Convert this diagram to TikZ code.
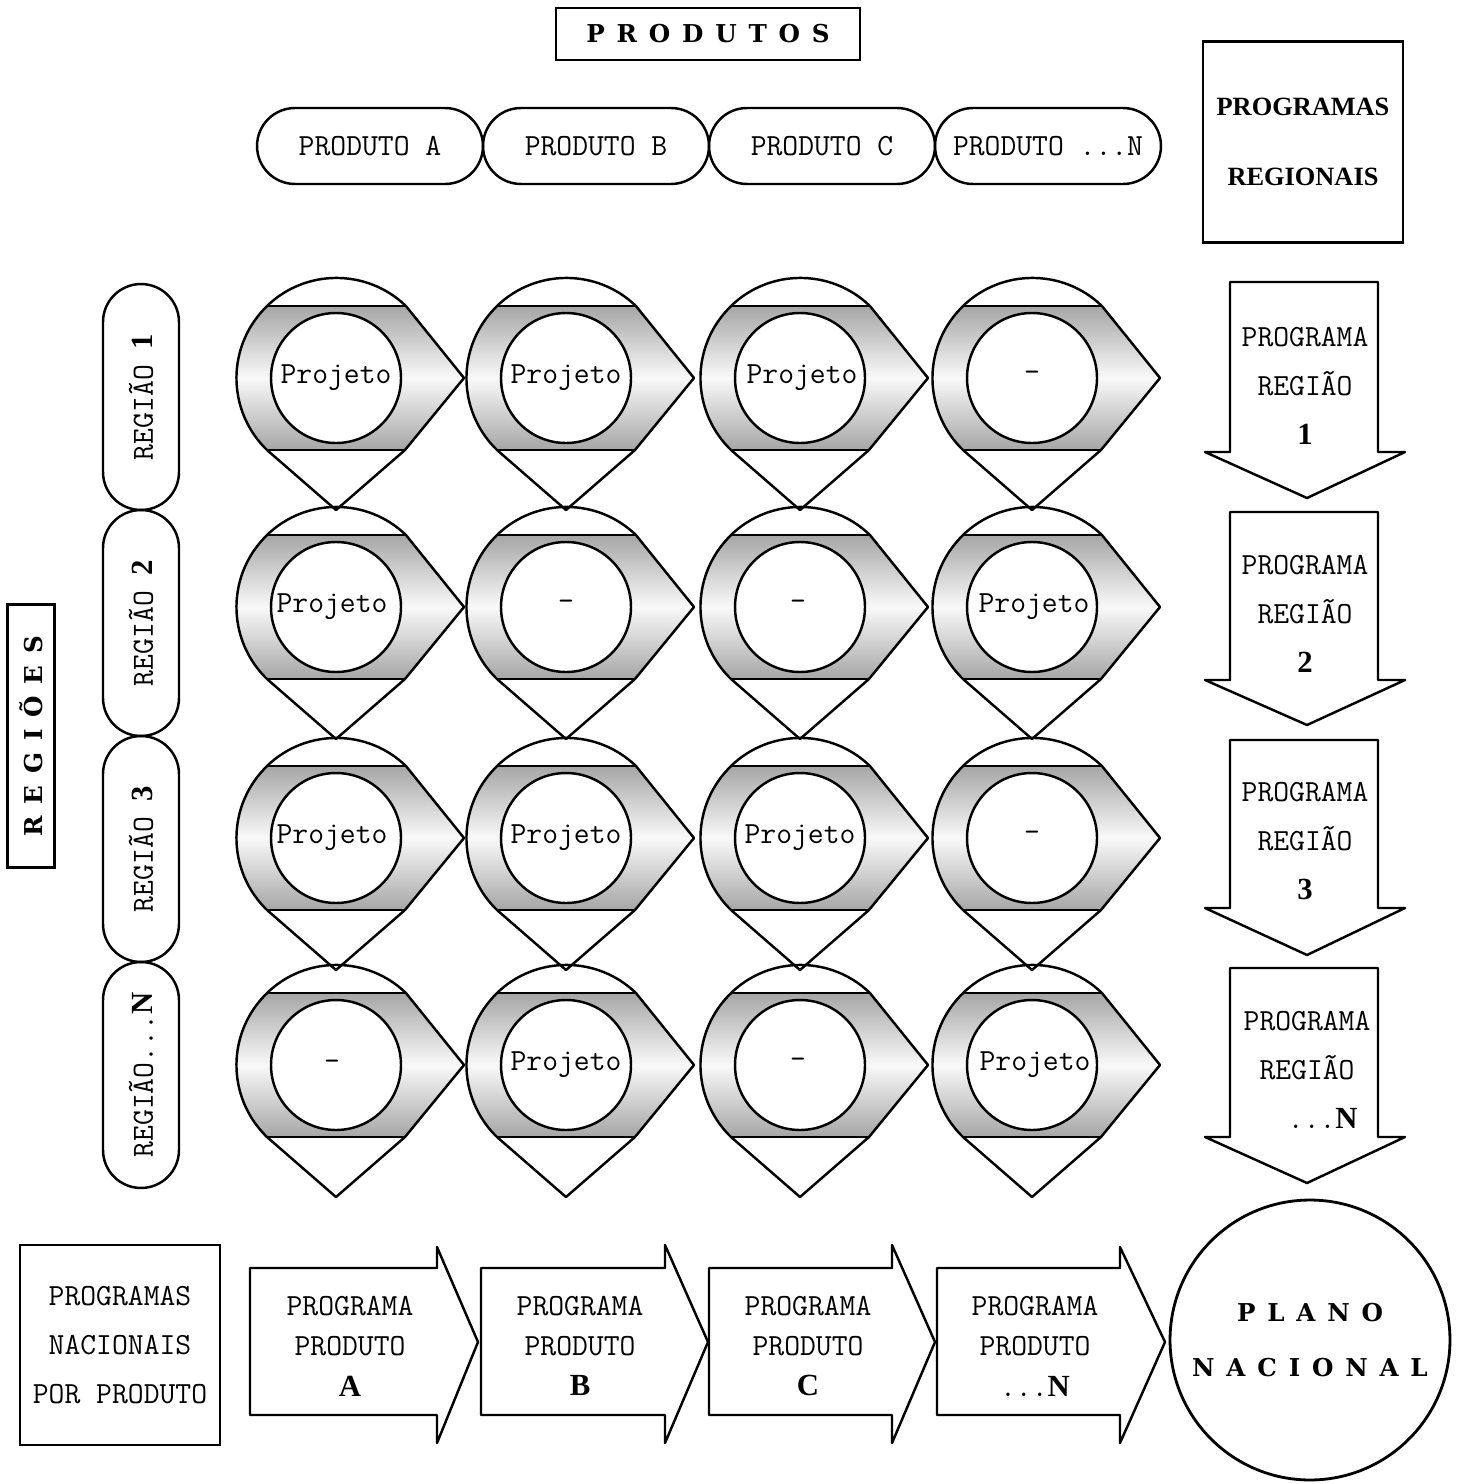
\documentclass[tikz,border=0pt]{standalone}
\usepackage{fontspec}
\usetikzlibrary{shapes.misc}
\newfontfamily\headfont[LetterSpace=48]{DejaVu Serif}
\newfontfamily\numfont{Liberation Serif}
\tikzset{
	pill/.style={draw, line width=1.4pt, rounded rectangle, inner sep=0pt,
		minimum width=4.52cm, minimum height=1.52cm},
	boxframe/.style={draw, line width=1.4pt, inner sep=0pt},
	txt/.style={font=\ttfamily\fontsize{17.5}{28}\selectfont, align=center},
	head/.style={font=\headfont\bfseries\fontsize{14}{31}\selectfont, align=center},
	shape line/.style={line width=1.4pt, line join=round},
}
\begin{document}
\begin{tikzpicture}[x=0.02cm, y=-0.02cm]

\def\BANDTOP{gray!70}
\def\BANDMID{gray!5}
\def\cellshape#1#2{
	\shade[top color=\BANDTOP, bottom color=\BANDTOP, middle color=\BANDMID]
		(#1-69,#2-72) -- (#1+69,#2-72) -- (#1+128,#2) -- (#1+69,#2+72) -- (#1-69,#2+72)
		arc[start angle=134, end angle=226, radius=100] -- cycle;
	\fill[white] (#1,#2) circle[radius=65];
	\draw[shape line] (#1-69,#2-72) arc[start angle=226, end angle=314, radius=100]
		-- (#1+128,#2) -- (#1+69,#2+72) -- (#1,#2+132) -- (#1-69,#2+72)
		arc[start angle=134, end angle=226, radius=100] -- cycle;
	\draw[shape line] (#1-69,#2-72) -- (#1+69,#2-72) (#1-69,#2+72) -- (#1+69,#2+72);
	\draw[shape line] (#1,#2) circle[radius=65];
}
	\useasboundingbox (0,0) rectangle (1462,1484);

	\node[boxframe, head, minimum width=6.08cm, minimum height=1.04cm] (produtos) at (708,34) {PRODUTOS};
	\node[boxframe, txt, minimum width=4cm, minimum height=4.02cm,
		font=\numfont\bfseries\fontsize{15}{40}\selectfont] (progreg) at (1303,142) {PROGRAMAS\\REGIONAIS};
	\node[boxframe, head, rotate=90, minimum width=5.26cm, minimum height=0.94cm] (regioes) at (31,736) {REGIÕES};

	\node[pill, txt] (pa) at (370,146) {PRODUTO A};
	\node[pill, txt] (pb) at (596,146) {PRODUTO B};
	\node[pill, txt] (pc) at (822,146) {PRODUTO C};
	\node[pill, txt] (pn) at (1048,146) {PRODUTO ...N};

	\node[pill, txt, rotate=90] (r1) at (141,397) {REGIÃO {\numfont\bfseries 1}};
	\node[pill, txt, rotate=90] (r2) at (141,623) {REGIÃO {\numfont\bfseries 2}};
	\node[pill, txt, rotate=90] (r3) at (141,849) {REGIÃO {\numfont\bfseries 3}};
	\node[pill, txt, rotate=90] (rn) at (141,1075) {REGIÃO...{\numfont\bfseries N}};

	\cellshape{336}{378}
	\cellshape{566}{378}
	\cellshape{800}{378}
	\cellshape{1032}{378}
	\cellshape{336}{607}
	\cellshape{566}{607}
	\cellshape{800}{607}
	\cellshape{1032}{607}
	\cellshape{336}{838}
	\cellshape{566}{838}
	\cellshape{800}{838}
	\cellshape{1032}{838}
	\cellshape{336}{1065}
	\cellshape{566}{1065}
	\cellshape{800}{1065}
	\cellshape{1032}{1065}

	\node[txt] (c11) at (336,378) {Projeto};
	\node[txt] (c12) at (566,378) {Projeto};
	\node[txt] (c13) at (802,378) {Projeto};
	\node[txt] (c14) at (1032,376) {-};
	\node[txt] (c21) at (332,607) {Projeto};
	\node[txt] (c22) at (566,605) {-};
	\node[txt] (c23) at (798,605) {-};
	\node[txt] (c24) at (1034,607) {Projeto};
	\node[txt] (c31) at (332,838) {Projeto};
	\node[txt] (c32) at (566,838) {Projeto};
	\node[txt] (c33) at (800,838) {Projeto};
	\node[txt] (c34) at (1032,836) {-};
	\node[txt] (c41) at (332,1065) {-};
	\node[txt] (c42) at (566,1065) {Projeto};
	\node[txt] (c43) at (798,1063) {-};
	\node[txt] (c44) at (1035,1065) {Projeto};

	\draw[shape line] (1230,282) -- (1378,282) -- (1378,452) -- (1405,452) -- (1307,498) -- (1205,452) -- (1230,452) -- cycle;
	\draw[shape line] (1230,512) -- (1378,512) -- (1378,680) -- (1405,680) -- (1307,725) -- (1205,680) -- (1230,680) -- cycle;
	\draw[shape line] (1230,740) -- (1378,740) -- (1378,908) -- (1405,908) -- (1307,955) -- (1205,908) -- (1230,908) -- cycle;
	\draw[shape line] (1230,968) -- (1378,968) -- (1378,1137) -- (1405,1137) -- (1307,1183) -- (1205,1137) -- (1230,1137) -- cycle;
	\node[txt] (pr1) at (1305,386) {PROGRAMA\\REGIÃO\\{\numfont\bfseries 1}};
	\node[txt] (pr2) at (1305,614) {PROGRAMA\\REGIÃO\\{\numfont\bfseries 2}};
	\node[txt] (pr3) at (1305,841) {PROGRAMA\\REGIÃO\\{\numfont\bfseries 3}};
	\node[txt] (prn) at (1307,1070) {PROGRAMA\\REGIÃO\\\ \ ...{\numfont\bfseries N}};

	\node[boxframe, txt, minimum width=4cm, minimum height=4cm] (pnac) at (120,1345) {PROGRAMAS\\NACIONAIS\\POR PRODUTO};

	\draw[shape line] (250,1268) -- (437,1268) -- (437,1247) -- (478,1342) -- (437,1443) -- (437,1415) -- (250,1415) -- cycle;
	\draw[shape line] (481,1268) -- (665,1268) -- (665,1245) -- (708,1342) -- (665,1443) -- (665,1415) -- (481,1415) -- cycle;
	\draw[shape line] (709,1268) -- (892,1268) -- (892,1245) -- (935,1342) -- (892,1443) -- (892,1415) -- (709,1415) -- cycle;
	\draw[shape line] (937,1268) -- (1120,1268) -- (1120,1247) -- (1165,1342) -- (1120,1443) -- (1120,1415) -- (937,1415) -- cycle;
	\node[txt, font=\ttfamily\fontsize{17.5}{23}\selectfont] (ppa) at (350,1346) {PROGRAMA\\PRODUTO\\{\numfont\bfseries A}};
	\node[txt, font=\ttfamily\fontsize{17.5}{23}\selectfont] (ppb) at (580,1346) {PROGRAMA\\PRODUTO\\{\numfont\bfseries B}};
	\node[txt, font=\ttfamily\fontsize{17.5}{23}\selectfont] (ppc) at (808,1346) {PROGRAMA\\PRODUTO\\{\numfont\bfseries C}};
	\node[txt, font=\ttfamily\fontsize{17.5}{23}\selectfont] (ppn) at (1035,1346) {PROGRAMA\\PRODUTO\\...{\numfont\bfseries N}};

	\node[circle, draw, line width=1.6pt, minimum size=5.6cm, inner sep=0pt, head] (plano) at (1310,1340) {PLANO\\NACIONAL};

\end{tikzpicture}
\end{document}
